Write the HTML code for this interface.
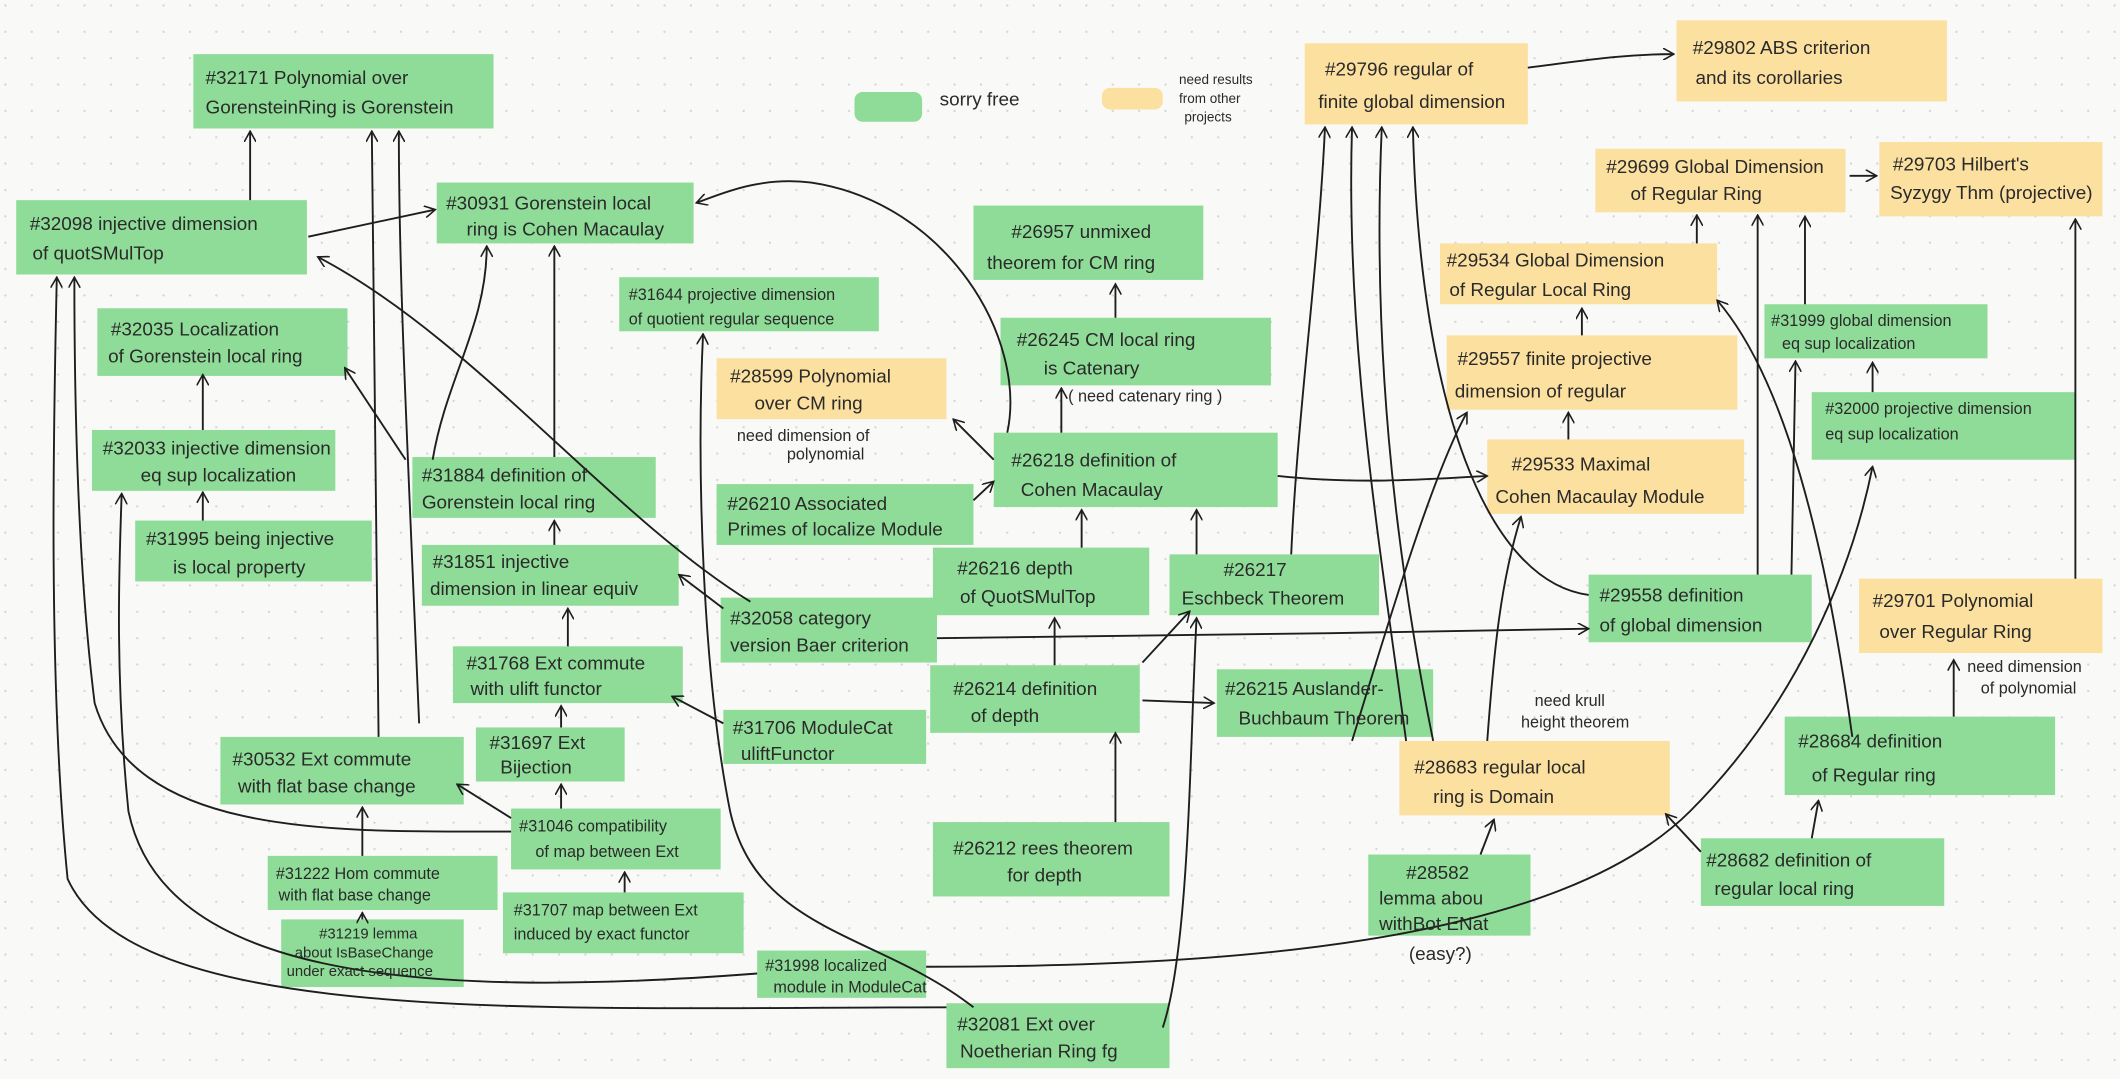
<!DOCTYPE html>
<html><head><meta charset="utf-8">
<style>
html,body{margin:0;padding:0;background:#f9f9f8;}
svg{display:block}
text{font-family:"Liberation Sans","DejaVu Sans",sans-serif;fill:#2a2a2a;font-size:14px;}
.g{fill:#8fdc98;}
.y{fill:#fbe0a0;}
.e{fill:none;stroke:#1e1e1e;stroke-width:1.4;}
.n{font-size:12px;}
</style></head><body>
<svg width="2120" height="1079" viewBox="0 0 1568 798" xmlns="http://www.w3.org/2000/svg">
<defs>
<pattern id="dots" width="19.5" height="19.5" patternUnits="userSpaceOnUse"><circle cx="4" cy="4" r="0.9" fill="#d6d6d6"/></pattern>
<marker id="a" viewBox="0 0 10 10" refX="9" refY="5" markerWidth="9" markerHeight="9" orient="auto" markerUnits="userSpaceOnUse">
<path d="M0,0 L9,5 L0,10" fill="none" stroke="#1e1e1e" stroke-width="1.3"/></marker>
</defs>
<rect width="1568" height="798" fill="#f9f9f8"/>
<rect width="1568" height="798" fill="url(#dots)"/>

<g>
<rect class="g" x="143" y="40" width="222" height="55"/>
<rect class="g" x="12" y="148" width="215" height="55"/>
<rect class="g" x="323" y="135" width="190" height="45"/>
<rect class="g" x="72" y="228" width="185" height="50"/>
<rect class="g" x="458" y="205" width="192" height="40"/>
<rect class="g" x="68" y="318" width="180" height="45"/>
<rect class="g" x="100" y="385" width="175" height="45"/>
<rect class="g" x="305" y="338" width="180" height="45"/>
<rect class="g" x="312" y="403" width="190" height="45"/>
<rect class="g" x="335" y="478" width="170" height="42"/>
<rect class="g" x="352" y="538" width="110" height="40"/>
<rect class="g" x="163" y="545" width="180" height="50"/>
<rect class="g" x="378" y="598" width="155" height="45"/>
<rect class="g" x="198" y="633" width="170" height="40"/>
<rect class="g" x="208" y="680" width="135" height="50"/>
<rect class="g" x="372" y="660" width="178" height="45"/>
<rect class="g" x="560" y="703" width="125" height="35"/>
<rect class="g" x="700" y="742" width="165" height="48"/>
<rect class="g" x="535" y="525" width="150" height="40"/>
<rect class="g" x="533" y="442" width="160" height="48"/>
<rect class="g" x="530" y="358" width="190" height="45"/>
<rect class="y" x="530" y="265" width="170" height="45"/>
<rect class="g" x="720" y="152" width="170" height="55"/>
<rect class="g" x="740" y="235" width="200" height="50"/>
<rect class="g" x="735" y="320" width="210" height="55"/>
<rect class="g" x="690" y="405" width="160" height="50"/>
<rect class="g" x="865" y="410" width="155" height="45"/>
<rect class="g" x="688" y="492" width="155" height="50"/>
<rect class="g" x="900" y="495" width="160" height="50"/>
<rect class="g" x="690" y="608" width="175" height="55"/>
<rect class="y" x="965" y="32" width="165" height="60"/>
<rect class="y" x="1240" y="15" width="200" height="60"/>
<rect class="y" x="1180" y="110" width="185" height="47"/>
<rect class="y" x="1390" y="105" width="165" height="55"/>
<rect class="y" x="1065" y="180" width="205" height="45"/>
<rect class="g" x="1305" y="225" width="165" height="40"/>
<rect class="y" x="1070" y="248" width="215" height="55"/>
<rect class="g" x="1340" y="290" width="195" height="50"/>
<rect class="y" x="1100" y="325" width="190" height="55"/>
<rect class="g" x="1175" y="425" width="165" height="50"/>
<rect class="y" x="1375" y="428" width="180" height="55"/>
<rect class="y" x="1035" y="548" width="200" height="55"/>
<rect class="g" x="1320" y="530" width="200" height="58"/>
<rect class="g" x="1258" y="620" width="180" height="50"/>
<rect class="g" x="1012" y="632" width="120" height="60"/>
<rect class="g" x="632" y="68" width="50" height="22" rx="6"/>
<rect class="y" x="815" y="65" width="45" height="16" rx="6"/>
</g>

<g class="e" marker-end="url(#a)">
<path d="M185,148 L185,97"/>
<path d="M280,545 L275,97"/>
<path d="M310,535 C300,300 295,200 295,97"/>
<path d="M228,175 L322,155"/>
<path d="M410,338 L410,182"/>
<path d="M555,445 C450,380 350,250 235,190"/>
<path d="M300,340 L255,272"/>
<path d="M150,318 L150,277"/>
<path d="M150,385 L150,364"/>
<path d="M378,615 C250,615 100,620 70,520 C55,400 55,250 55,205"/>
<path d="M700,745 C400,745 100,760 50,650 C35,500 40,300 42,205"/>
<path d="M560,720 C300,740 120,720 95,600 C85,500 88,420 90,365"/>
<path d="M320,340 C330,280 360,240 360,182"/>
<path d="M410,403 L410,385"/>
<path d="M420,478 L420,450"/>
<path d="M415,538 L415,522"/>
<path d="M415,598 L415,580"/>
<path d="M378,605 L338,580"/>
<path d="M268,633 L268,597"/>
<path d="M268,680 L268,675"/>
<path d="M462,660 L462,645"/>
<path d="M535,450 L502,425"/>
<path d="M535,535 L497,515"/>
<path d="M720,745 C650,690 560,690 540,600 C520,500 515,350 520,247"/>
<path d="M745,320 C760,250 700,150 600,135 C560,130 530,145 515,150"/>
<path d="M735,340 L705,310"/>
<path d="M720,370 L735,356"/>
<path d="M825,235 L825,210"/>
<path d="M785,320 L785,287"/>
<path d="M800,405 L800,377"/>
<path d="M885,410 L885,377"/>
<path d="M780,492 L780,457"/>
<path d="M845,490 L880,452"/>
<path d="M845,518 L898,520"/>
<path d="M825,608 L825,542"/>
<path d="M693,472 C900,470 1000,468 1175,465"/>
<path d="M945,352 C1000,358 1050,355 1100,352"/>
<path d="M860,760 C880,700 880,550 885,457"/>
<path d="M955,410 C960,300 975,200 980,94"/>
<path d="M1040,548 C1020,400 995,250 1000,94"/>
<path d="M1060,548 C1030,400 1015,250 1022,94"/>
<path d="M1175,440 C1100,430 1050,300 1045,94"/>
<path d="M1130,50 C1170,45 1200,40 1238,40"/>
<path d="M1300,425 L1300,159"/>
<path d="M1370,545 C1350,400 1320,280 1270,222"/>
<path d="M1325,425 L1328,267"/>
<path d="M1335,225 L1335,160"/>
<path d="M1368,130 L1388,130"/>
<path d="M1255,180 L1255,159"/>
<path d="M1170,248 L1170,228"/>
<path d="M1160,325 L1160,305"/>
<path d="M1100,548 C1105,480 1110,430 1125,382"/>
<path d="M1000,548 C1030,450 1060,350 1085,305"/>
<path d="M1535,428 L1535,162"/>
<path d="M1445,530 L1445,488"/>
<path d="M1340,620 L1345,592"/>
<path d="M1258,630 L1232,602"/>
<path d="M1095,632 L1105,606"/>
<path d="M1385,290 L1385,268"/>
<path d="M685,715 C900,715 1150,700 1250,600 C1330,520 1370,420 1385,345"/>
</g>

<g>
<text x="152" y="62">#32171 Polynomial over</text><text x="152" y="84">GorensteinRing is Gorenstein</text>
<text x="22" y="170">#32098 injective dimension</text><text x="24" y="192">of  quotSMulTop</text>
<text x="330" y="155">#30931 Gorenstein local</text><text x="345" y="174">ring is Cohen Macaulay</text>
<text x="82" y="248">#32035   Localization</text><text x="80" y="268">of Gorenstein local ring</text>
<text x="465" y="222" class="n">#31644 projective dimension</text><text x="465" y="240" class="n">of quotient regular sequence</text>
<text x="76" y="336">#32033 injective dimension</text><text x="104" y="356">eq sup localization</text>
<text x="108" y="403">#31995 being injective</text><text x="128" y="424">is local property</text>
<text x="312" y="356">#31884 definition of</text><text x="312" y="376">Gorenstein local ring</text>
<text x="320" y="420">#31851 injective</text><text x="318" y="440">dimension in linear equiv</text>
<text x="345" y="495">#31768 Ext commute</text><text x="348" y="514">with ulift functor</text>
<text x="362" y="554">#31697 Ext</text><text x="370" y="572">Bijection</text>
<text x="172" y="566">#30532 Ext commute</text><text x="176" y="586">with flat base change</text>
<text x="384" y="615" class="n">#31046 compatibility</text><text x="396" y="634" class="n">of map between Ext</text>
<text x="204" y="650" class="n">#31222 Hom commute</text><text x="206" y="666" class="n">with flat base change</text>
<text x="236" y="694" style="font-size:11px">#31219 lemma</text><text x="218" y="708" style="font-size:11px">about IsBaseChange</text><text x="212" y="722" style="font-size:11px">under exact sequence</text>
<text x="380" y="677" class="n">#31707 map between Ext</text><text x="380" y="695" class="n">induced by exact functor</text>
<text x="566" y="718" class="n">#31998 localized</text><text x="572" y="734" class="n">module in ModuleCat</text>
<text x="708" y="762">#32081  Ext over</text><text x="710" y="782">Noetherian Ring fg</text>
<text x="542" y="543">#31706 ModuleCat</text><text x="548" y="562">uliftFunctor</text>
<text x="540" y="462">#32058 category</text><text x="540" y="482">version Baer criterion</text>
<text x="538" y="377">#26210 Associated</text><text x="538" y="396">Primes of localize Module</text>
<text x="540" y="283">#28599  Polynomial</text><text x="558" y="303">over CM ring</text>
<text x="545" y="326" class="n">need dimension of</text><text x="582" y="340" class="n">polynomial</text>
<text x="748" y="176">#26957  unmixed</text><text x="730" y="199">theorem for CM ring</text>
<text x="752" y="256">#26245  CM local ring</text><text x="772" y="277">is Catenary</text>
<text x="790" y="297" class="n">( need catenary ring )</text>
<text x="748" y="345">#26218  definition of</text><text x="755" y="367">Cohen Macaulay</text>
<text x="708" y="425">#26216  depth</text><text x="710" y="446">of QuotSMulTop</text>
<text x="905" y="426">#26217</text><text x="874" y="447">Eschbeck Theorem</text>
<text x="705" y="514">#26214 definition</text><text x="718" y="534">of depth</text>
<text x="906" y="514">#26215 Auslander-</text><text x="916" y="536">Buchbaum Theorem</text>
<text x="705" y="632">#26212 rees theorem</text><text x="745" y="652">for depth</text>
<text x="980" y="56">#29796 regular of</text><text x="975" y="80">finite global dimension</text>
<text x="1252" y="40">#29802 ABS criterion</text><text x="1254" y="62">and its corollaries</text>
<text x="1188" y="128">#29699 Global Dimension</text><text x="1206" y="148">of Regular Ring</text>
<text x="1400" y="126">#29703 Hilbert's</text><text x="1398" y="147">Syzygy Thm (projective)</text>
<text x="1070" y="197">#29534 Global Dimension</text><text x="1072" y="219">of Regular Local Ring</text>
<text x="1310" y="241" class="n">#31999 global dimension</text><text x="1318" y="258" class="n">eq sup localization</text>
<text x="1078" y="270">#29557 finite projective</text><text x="1076" y="294">dimension of regular</text>
<text x="1350" y="306" class="n">#32000 projective dimension</text><text x="1350" y="325" class="n">eq sup localization</text>
<text x="1118" y="348">#29533 Maximal</text><text x="1106" y="372">Cohen Macaulay Module</text>
<text x="1183" y="445">#29558 definition</text><text x="1183" y="467">of global dimension</text>
<text x="1385" y="449">#29701 Polynomial</text><text x="1390" y="472">over Regular Ring</text>
<text x="1455" y="497" class="n">need dimension</text><text x="1465" y="513" class="n">of polynomial</text>
<text x="1135" y="522" class="n">need krull</text><text x="1125" y="538" class="n">height theorem</text>
<text x="1046" y="572">#28683 regular local</text><text x="1060" y="594">ring is Domain</text>
<text x="1330" y="553">#28684 definition</text><text x="1340" y="578">of Regular ring</text>
<text x="1262" y="641">#28682 definition of</text><text x="1268" y="662">regular local ring</text>
<text x="1040" y="650">#28582</text><text x="1020" y="669">lemma abou</text><text x="1020" y="688">withBot ENat</text>
<text x="1042" y="710">(easy?)</text>
<text x="695" y="78">sorry free</text>
<text x="872" y="62" style="font-size:10px">need results</text><text x="872" y="76" style="font-size:10px">from other</text><text x="876" y="90" style="font-size:10px">projects</text>
</g>
</svg>
</body></html>
